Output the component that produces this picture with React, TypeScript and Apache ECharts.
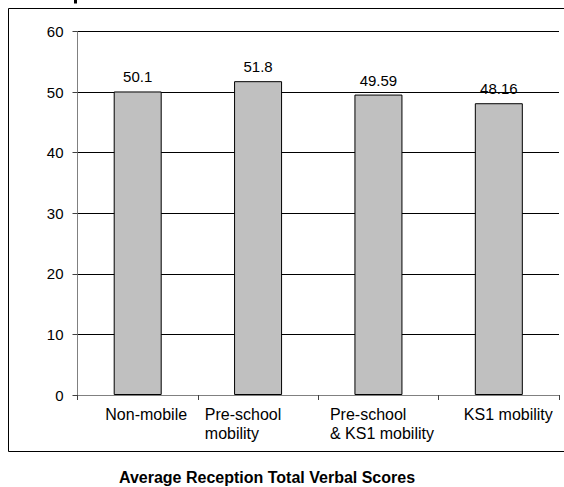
import React, { useEffect, useRef } from "react";
import * as echarts from "echarts";

const categories = ["Non-mobile", "Pre-school\nmobility", "Pre-school\n& KS1 mobility", "KS1 mobility"];
const scores = [50.1, 51.8, 49.59, 48.16];
const yTicks = { min: 0, max: 60, interval: 10 };
const chartTitle = "Average Reception Total Verbal Scores";

const FONT = "'Liberation Sans', Arial, sans-serif";

export default function App() {
  const ref = useRef<HTMLDivElement>(null);
  useEffect(() => {
    if (!ref.current) return;
    const chart = echarts.init(ref.current, null, { renderer: "svg" });
    const labelPads = [
      [0, 0, 0, 17],
      [0, 30, 0, 0],
      [0, 0, 0, 7],
      [0, 0, 0, 19],
    ];
    const rich: any = {};
    labelPads.forEach((p, i) => {
      rich["l" + i] = {
        fontFamily: FONT,
        fontSize: 16,
        color: "#000",
        align: "left",
        lineHeight: 19,
        padding: p,
      };
    });
    chart.setOption({
      animation: false,
      backgroundColor: "#fff",
      textStyle: { fontFamily: FONT },
      grid: { left: 77.5, right: 5, top: 31.5, bottom: 92 },
      xAxis: {
        type: "category",
        data: categories,
        boundaryGap: true,
        axisLine: { show: true, lineStyle: { color: "#808080", width: 1 } },
        axisTick: { show: true, alignWithLabel: false, length: 5, lineStyle: { color: "#404040" } },
        axisLabel: {
          interval: 0,
          margin: 10,
          formatter: (v: string, i: number) =>
            v
              .split("\n")
              .map((l) => `{l${i}|${l}}`)
              .join("\n"),
          rich,
        },
      },
      yAxis: {
        type: "value",
        min: yTicks.min,
        max: yTicks.max,
        interval: yTicks.interval,
        axisLine: { show: true, lineStyle: { color: "#808080", width: 1 } },
        axisTick: { show: true, length: 5, lineStyle: { color: "#404040" } },
        axisLabel: { fontSize: 15, color: "#000", margin: 14, fontFamily: FONT },
        splitLine: { show: true, lineStyle: { color: "#000", width: 1 } },
      },
      series: [
        {
          type: "bar",
          data: scores,
          barWidth: 48,
          itemStyle: { color: "#c0c0c0", borderColor: "#000", borderWidth: 1 },
          label: {
            show: true,
            position: "top",
            distance: 7,
            fontSize: 15,
            color: "#000",
            fontFamily: FONT,
          },
        },
      ],
      graphic: [
        {
          type: "rect",
          shape: { x: 8.5, y: 8.5, width: 600, height: 443 },
          style: { fill: "none", stroke: "#000", lineWidth: 1 },
          silent: true,
        },
        {
          type: "rect",
          shape: { x: 74, y: 0, width: 3, height: 3.5 },
          style: { fill: "#000" },
          silent: true,
        },
        {
          type: "text",
          x: 267,
          y: 477,
          style: {
            text: chartTitle,
            fontFamily: FONT,
            fontSize: 16,
            fontWeight: "bold",
            fill: "#000",
            align: "center",
            verticalAlign: "middle",
          },
        },
      ],
    });
    return () => chart.dispose();
  }, []);
  return <div ref={ref} style={{ width: 564, height: 487, position: "absolute", left: 0, top: 0 }} />;
}
